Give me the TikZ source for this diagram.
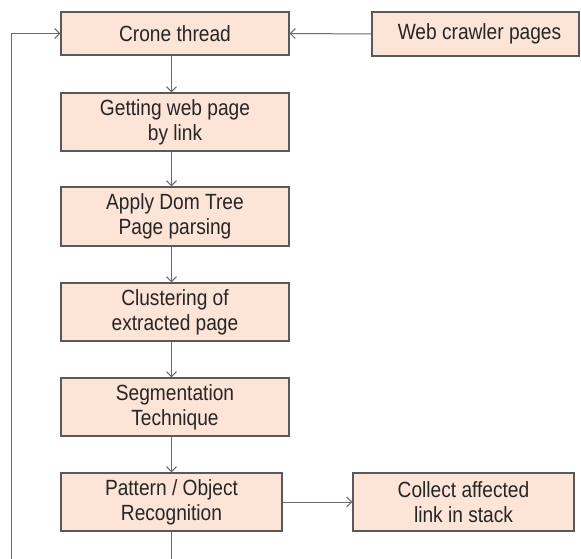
\documentclass[tikz,border=0pt]{standalone}
\usepackage{fontspec}
\setmainfont[FakeStretch=0.87]{Liberation Sans}
\usetikzlibrary{arrows.meta}
\definecolor{boxfill}{HTML}{FCE4D6}
\definecolor{boxline}{HTML}{595959}
\definecolor{conn}{HTML}{6A6A6A}
\definecolor{txt}{HTML}{262626}
\begin{document}
\begin{tikzpicture}[x=1pt,y=-1pt,
  box/.style={draw=boxline,line width=1.2pt,fill=boxfill,text=txt,align=center,
    inner sep=0pt,font=\fontsize{22}{25}\selectfont},
  arr/.style={draw=conn,line width=1pt,-{Straight Barb[length=5pt,width=10pt]}},
  ln/.style={draw=conn,line width=1pt}]
\fill[white] (0,0) rectangle (581,559);
\useasboundingbox (0,0) rectangle (581,559);
\node[box,minimum width=228pt,minimum height=43pt] (crone) at (175,33.5) {Crone thread};
\node[box,minimum width=207pt,minimum height=44pt] (web) at (475.5,34) {\hspace*{8pt}Web crawler pages};
\node[box,minimum width=228pt,minimum height=58pt] (get) at (175,122) {Getting web page\\by link};
\node[box,minimum width=228pt,minimum height=59pt] (dom) at (175,216.5) {Apply Dom Tree\\Page parsing};
\node[box,minimum width=228pt,minimum height=58pt] (clus) at (175,312) {Clustering of\\extracted page};
\node[box,minimum width=228pt,minimum height=58pt] (seg) at (175,407) {Segmentation\\Technique};
\node[box,minimum width=221pt,minimum height=58pt] (pat) at (171.5,502) {Pattern / Object\\Recognition};
\node[box,minimum width=221pt,minimum height=58pt] (col) at (463.5,502) {Collect affected\\link in stack};
\coordinate (loopB) at (11,559);
\coordinate (botP) at (171.5,559);
\draw[arr] (web.west) -- (crone.east);
\draw[arr] (crone.south -| pat.center) -- (get.north -| pat.center);
\draw[arr] (get.south -| pat.center) -- (dom.north -| pat.center);
\draw[arr] (dom.south -| pat.center) -- (clus.north -| pat.center);
\draw[arr] (clus.south -| pat.center) -- (seg.north -| pat.center);
\draw[arr] (seg.south -| pat.center) -- (pat.north);
\draw[arr] (pat.east) -- (col.west);
\draw[ln] (pat.south) -- (botP);
\draw[arr] (loopB) |- (crone.west);
\end{tikzpicture}
\end{document}
